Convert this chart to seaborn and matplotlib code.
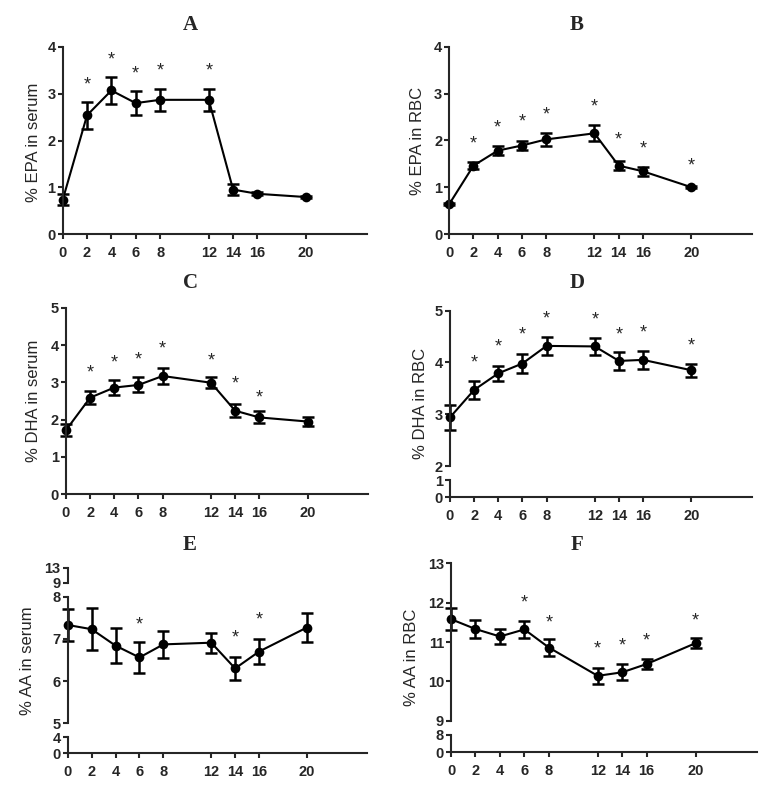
import numpy as np
import pandas as pd
import seaborn as sns
import matplotlib.pyplot as plt

# weeks on the x axis
weeks = [0, 2, 4, 6, 8, 12, 14, 16, 20]

# A: % EPA in serum
epa_serum = [0.73, 2.54, 3.07, 2.80, 2.87, 2.87, 0.95, 0.86, 0.79]
epa_serum_err = [0.12, 0.29, 0.28, 0.25, 0.24, 0.23, 0.12, 0.03, 0.02]
epa_serum_star_x = [2, 4, 6, 8, 12]
epa_serum_star_y = [3.30, 3.85, 3.54, 3.61, 3.61]

# B: % EPA in RBC
epa_rbc = [0.64, 1.46, 1.78, 1.89, 2.02, 2.15, 1.46, 1.34, 1.00]
epa_rbc_err = [0.02, 0.08, 0.10, 0.10, 0.13, 0.17, 0.10, 0.10, 0.02]
epa_rbc_star_x = [2, 4, 6, 8, 12, 14, 16, 20]
epa_rbc_star_y = [2.05, 2.38, 2.52, 2.66, 2.84, 2.12, 1.94, 1.58]

# C: % DHA in serum
dha_serum = [1.72, 2.59, 2.86, 2.93, 3.17, 2.99, 2.24, 2.06, 1.95]
dha_serum_err = [0.17, 0.18, 0.21, 0.20, 0.22, 0.14, 0.18, 0.16, 0.13]
dha_serum_star_x = [2, 4, 6, 8, 12, 14, 16]
dha_serum_star_y = [3.40, 3.67, 3.75, 4.03, 3.73, 3.09, 2.73]

# D: % DHA in RBC
dha_rbc = [2.94, 3.47, 3.79, 3.98, 4.32, 4.31, 4.03, 4.05, 3.85]
dha_rbc_err = [0.24, 0.18, 0.15, 0.18, 0.17, 0.16, 0.18, 0.18, 0.13]
dha_rbc_star_x = [2, 4, 6, 8, 12, 14, 16, 20]
dha_rbc_star_y = [4.10, 4.40, 4.64, 4.95, 4.92, 4.64, 4.67, 4.43]

# E: % AA in serum
aa_serum = [7.33, 7.23, 6.84, 6.56, 6.87, 6.91, 6.30, 6.70, 7.27]
aa_serum_err = [0.37, 0.50, 0.41, 0.36, 0.32, 0.24, 0.27, 0.30, 0.34]
aa_serum_star_x = [6, 14, 16]
aa_serum_star_y = [7.45, 7.16, 7.58]

# F: % AA in RBC
aa_rbc = [11.58, 11.33, 11.14, 11.32, 10.86, 10.14, 10.23, 10.44, 10.97]
aa_rbc_err = [0.28, 0.23, 0.19, 0.22, 0.21, 0.21, 0.20, 0.12, 0.13]
aa_rbc_star_x = [6, 8, 12, 14, 16, 20]
aa_rbc_star_y = [12.14, 11.63, 10.95, 11.05, 11.16, 11.68]

sns.set_style("ticks")
plt.rcParams['font.family'] = ['Liberation Sans', 'DejaVu Sans']

W, H = 765, 796
fig = plt.figure(figsize=(W / 100, H / 100), dpi=100)


def add_ax(left, right, top, bottom):
    return fig.add_axes([left / W, 1 - bottom / H, (right - left) / W, (bottom - top) / H])


def style_ax(ax, yticks, show_x):
    ax.set_xlim(0, 25)
    ax.set_ylim(yticks[0], yticks[-1])
    ax.set_yticks(yticks)
    ax.set_xticks(weeks)
    sns.despine(ax=ax)
    for s in ['left', 'bottom']:
        ax.spines[s].set_linewidth(1.5)
    ax.tick_params(direction='out', length=3.6, width=1.5, labelsize=10.5)
    ax.tick_params(axis='y', pad=1.5)
    ax.tick_params(axis='x', pad=5)
    if not show_x:
        ax.spines['bottom'].set_visible(False)
        ax.tick_params(axis='x', bottom=False, labelbottom=False)
    ax.set_xlabel('')
    ax.set_ylabel('')
    for lbl in ax.get_xticklabels() + ax.get_yticklabels():
        lbl.set_fontweight('bold')
    ax.patch.set_alpha(0)


def panel(letter, label, vals, errs, star_x, star_y, left, right, segments,
          main, title_x, title_y, label_x, label_y):
    axes = []
    for i, (top, bottom, ticks) in enumerate(segments):
        ax = add_ax(left, right, top, bottom)
        axes.append(ax)
        if i == main:
            df = pd.DataFrame({'week': weeks, 'value': vals, 'err': errs})
            ax.errorbar(df['week'], df['value'], yerr=df['err'], fmt='none',
                        ecolor='black', elinewidth=1.8, capsize=4.5, capthick=1.8)
            sns.lineplot(data=df, x='week', y='value', ax=ax, color='black',
                         linewidth=1.5, marker='o', markersize=7,
                         markeredgewidth=0, clip_on=False)
            for c in ax.containers:
                for part in c.lines:
                    parts = part if isinstance(part, tuple) else (part,)
                    for p in parts:
                        if p is not None:
                            p.set_clip_on(False)
            for sx, sy in zip(star_x, star_y):
                ax.annotate('*', (sx, sy), xytext=(0, -7.2), textcoords='offset points',
                            ha='center', va='baseline', fontsize=13)
        style_ax(ax, ticks, i == len(segments) - 1)
    fig.text(title_x / W, 1 - title_y / H, letter, family='Liberation Serif',
             fontweight='bold', fontsize=15, ha='center', va='center')
    fig.text(label_x / W, 1 - label_y / H, label, rotation=90, fontsize=12,
             ha='center', va='center')
    return axes


panel('A', '% EPA in serum', epa_serum, epa_serum_err, epa_serum_star_x, epa_serum_star_y,
      62.7, 367, [(47, 234, [0, 1, 2, 3, 4])], 0, 190, 25, 33, 142)
panel('B', '% EPA in RBC', epa_rbc, epa_rbc_err, epa_rbc_star_x, epa_rbc_star_y,
      449.3, 751.7, [(46.7, 234, [0, 1, 2, 3, 4])], 0, 577, 25, 418, 141)
panel('C', '% DHA in serum', dha_serum, dha_serum_err, dha_serum_star_x, dha_serum_star_y,
      66, 368, [(307.7, 494.3, [0, 1, 2, 3, 4, 5])], 0, 190, 283, 33, 401)
panel('D', '% DHA in RBC', dha_rbc, dha_rbc_err, dha_rbc_star_x, dha_rbc_star_y,
      450, 751.7, [(310.7, 466, [2, 3, 4, 5]), (480, 497.3, [0, 1])], 0,
      577, 283, 420, 403)
panel('E', '% AA in serum', aa_serum, aa_serum_err, aa_serum_star_x, aa_serum_star_y,
      67.7, 366.7, [(567.7, 582.7, [9, 13]), (596.7, 723.3, [5, 6, 7, 8]),
                    (737.3, 753.3, [0, 4])], 1, 190, 545, 28, 661)
panel('F', '% AA in RBC', aa_rbc, aa_rbc_err, aa_rbc_star_x, aa_rbc_star_y,
      451, 756.7, [(563.3, 720.7, [9, 10, 11, 12, 13]), (735, 752.3, [0, 8])], 0,
      577, 545, 412, 657)

fig.savefig('out.png', dpi=100)
